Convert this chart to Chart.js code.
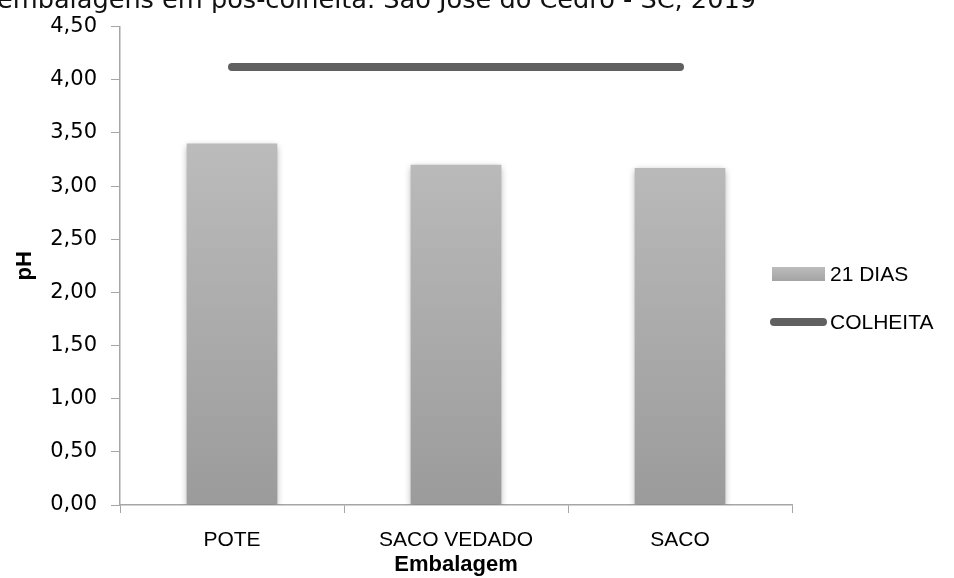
<!DOCTYPE html>
<html lang="pt-BR">
<head>
<meta charset="utf-8">
<title>pH por embalagem</title>
<script src="https://cdn.jsdelivr.net/npm/chart.js@4/dist/chart.umd.min.js"></script>
<style>
  html, body { margin: 0; padding: 0; background: #fff; }
  #wrap { position: relative; width: 954px; height: 578px; overflow: hidden; }
  #chartCanvas { position: absolute; left: 0; top: 0; }
  .caption {
    position: absolute; left: -3px; top: -14px; white-space: nowrap;
    font: 25.6px/26px "DejaVu Sans", sans-serif; color: #111;
  }
  .legend { position: absolute; left: 770px; top: 255px; font: 21px "Liberation Sans", sans-serif; color: #000; white-space: nowrap; }
  .legend .row { position: relative; height: 48px; }
  .legend .swatch { position: absolute; left: 2px; top: 12px; width: 53px; height: 14px; background: linear-gradient(#bcbcbc, #a4a4a4); }
  .legend .stroke { position: absolute; left: 0; top: 15px; width: 57px; height: 8px; border-radius: 4px; background: #606060; }
  .legend .txt { position: absolute; left: 60px; top: 3px; line-height: 32px; }
</style>
</head>
<body>
<div id="wrap">
  <canvas id="chartCanvas" width="954" height="578"></canvas>
  <div class="caption">embalagens em pós-colheita. São José do Cedro - SC, 2019</div>
  <div class="legend">
    <div class="row"><span class="swatch"></span><span class="txt">21 DIAS</span></div>
    <div class="row"><span class="stroke"></span><span class="txt">COLHEITA</span></div>
  </div>
</div>
<script>
  // Embalagens avaliadas e pH medido
  const embalagens = ['POTE', 'SACO VEDADO', 'SACO'];
  const ph21Dias = [3.40, 3.20, 3.17];
  const phColheita = [4.12, 4.12, 4.12];
  const yTicks = [0, 0.5, 1, 1.5, 2, 2.5, 3, 3.5, 4, 4.5];

  const labelFont = '"Liberation Sans", sans-serif';
  const axisGray = '#a6a6a6';

  // soft drop shadow under the bars only
  const barShadow = {
    id: 'barShadow',
    beforeDatasetDraw(chart, args) {
      if (args.meta.type !== 'bar') return;
      const ctx = chart.ctx;
      ctx.save();
      ctx.shadowColor = 'rgba(0,0,0,0.35)';
      ctx.shadowBlur = 7;
      ctx.shadowOffsetX = 0;
      ctx.shadowOffsetY = 2;
    },
    afterDatasetDraw(chart, args) {
      if (args.meta.type !== 'bar') return;
      chart.ctx.restore();
    }
  };

  function barGradient(context) {
    const { chart } = context;
    const area = chart.chartArea;
    if (!area) return '#b0b0b0';
    const g = chart.ctx.createLinearGradient(0, area.top + 110, 0, area.bottom);
    g.addColorStop(0, '#bcbcbc');
    g.addColorStop(1, '#9b9b9b');
    return g;
  }

  new Chart(document.getElementById('chartCanvas'), {
    data: {
      labels: embalagens,
      datasets: [
        {
          type: 'line',
          label: 'COLHEITA',
          data: phColheita,
          borderColor: '#606060',
          borderWidth: 8,
          borderCapStyle: 'round',
          pointRadius: 0,
          fill: false,
          order: 0
        },
        {
          type: 'bar',
          label: '21 DIAS',
          data: ph21Dias,
          backgroundColor: barGradient,
          borderWidth: 0,
          categoryPercentage: 1,
          barPercentage: 0.405,
          order: 1
        }
      ]
    },
    options: {
      responsive: false,
      animation: false,
      layout: { padding: { left: 0, right: 162, top: 25, bottom: 0 } },
      plugins: { legend: { display: false }, tooltip: { enabled: false } },
      scales: {
        x: {
          offset: true,
          grid: { offset: true, drawOnChartArea: false, drawTicks: true, tickLength: 8, color: axisGray },
          border: { display: true, color: axisGray, width: 1.5 },
          ticks: { color: '#000', padding: 15, maxRotation: 0, font: { family: labelFont, size: 21 } },
          title: {
            display: true, text: 'Embalagem', color: '#000',
            font: { family: labelFont, size: 22, weight: 'bold' },
            padding: { top: 0, bottom: 0 }
          },
          afterFit(scale) { scale.height = 73; }
        },
        y: {
          min: 0, max: 4.5,
          afterBuildTicks(scale) { scale.ticks = yTicks.map(v => ({ value: v })); },
          grid: { drawOnChartArea: false, drawTicks: true, tickLength: 9, color: axisGray },
          border: { display: true, color: axisGray, width: 1.5 },
          ticks: {
            color: '#000', padding: 14,
            font: { family: '"DejaVu Sans", sans-serif', size: 21 },
            callback: v => v.toFixed(2).replace('.', ',')
          },
          title: {
            display: true, text: 'pH', color: '#000',
            font: { family: labelFont, size: 22, weight: 'bold' },
            padding: { top: 12, bottom: 0 }
          },
          afterFit(scale) { scale.width = 120; }
        }
      }
    },
    plugins: [barShadow]
  });
</script>
</body>
</html>
